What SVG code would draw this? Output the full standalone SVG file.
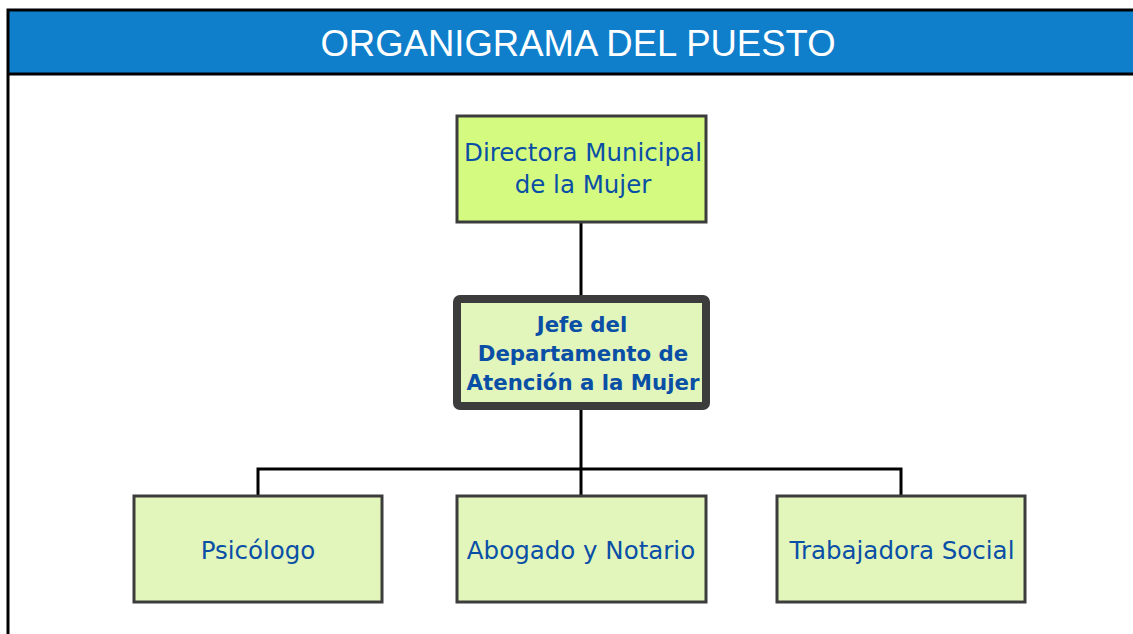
<svg xmlns="http://www.w3.org/2000/svg" width="1133" height="634" viewBox="0 0 1133 634">
<style>
.box{fill:#e2f5bb;stroke:#3c3c3c;stroke-width:3}
.t{font-family:"DejaVu Sans",Verdana,sans-serif;font-size:24.5px;fill:#0a4fa6;text-anchor:middle}
.b{font-weight:bold;font-size:21.3px}
.c{stroke:#000;stroke-width:3;fill:none}
</style>
<rect x="0" y="0" width="1133" height="634" fill="#fff"/>
<rect x="8" y="10" width="1130" height="64" fill="#0f7fcc"/>
<path d="M8,634 V10 H1133" fill="none" stroke="#000" stroke-width="3"/>
<line x1="8" y1="74" x2="1133" y2="74" stroke="#000" stroke-width="3"/>
<text x="578" y="56" font-family="Liberation Sans,Arial,sans-serif" font-size="36.5" fill="#fff" text-anchor="middle">ORGANIGRAMA DEL PUESTO</text>
<g id="connectors">
<line class="c" x1="581" y1="222" x2="581" y2="296"/>
<line class="c" x1="581" y1="409" x2="581" y2="495"/>
<path class="c" d="M258,495 V469 H901 V495"/>
</g>
<g id="director">
<rect class="box" x="457" y="116" width="249" height="106" style="fill:#d4fa80"/>
<text class="t" x="583" y="161">Directora Municipal</text>
<text class="t" x="583" y="193">de la Mujer</text>
</g>
<g id="jefe">
<rect class="box" x="457" y="299" width="249" height="107" rx="3" style="stroke-width:8"/>
<text class="t b" x="582" y="332">Jefe del</text>
<text class="t b" x="583" y="361">Departamento de</text>
<text class="t b" x="583" y="390">Atención a la Mujer</text>
</g>
<g id="psicologo">
<rect class="box" x="134" y="496" width="248" height="106"/>
<text class="t" x="258" y="559">Psicólogo</text>
</g>
<g id="abogado">
<rect class="box" x="457" y="496" width="249" height="106"/>
<text class="t" x="581" y="559">Abogado y Notario</text>
</g>
<g id="trabajadora">
<rect class="box" x="777" y="496" width="248" height="106"/>
<text class="t" x="902" y="559">Trabajadora Social</text>
</g>
</svg>
